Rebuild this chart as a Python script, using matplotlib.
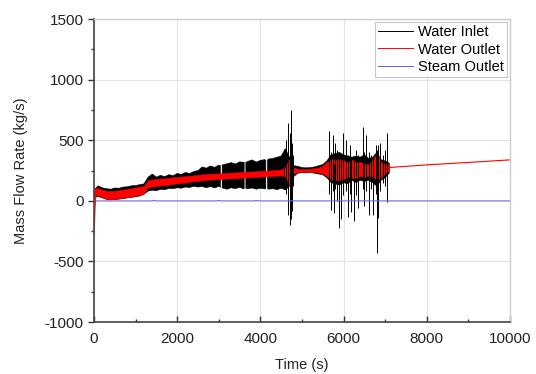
import numpy as np
import matplotlib
matplotlib.use('Agg')
from matplotlib import pyplot as plt
from matplotlib.lines import Line2D
from matplotlib.ticker import MultipleLocator

plt.rcParams['font.family'] = ['Liberation Sans', 'DejaVu Sans']
plt.rcParams['axes.unicode_minus'] = False

nan = np.nan

# time grid of the noisy record, s (extra points around the short data gaps)
t_env = (list(range(0, 3001, 100)) + [3040, 3060, 3080]
         + list(range(3100, 3601, 100)) + [3610, 3630, 3650]
         + list(range(3700, 4101, 100)) + [4130, 4150, 4170]
         + list(range(4200, 7101, 100)))

# Water Inlet band (low / high of the fast oscillation), kg/s
inlet_lo = [30, 35, 25, 12, 8, 10, 14, 18, 24, 28,
            34, 40, 55, 80, 88, 84, 95, 92, 102, 100,
            108, 104, 114, 110, 120, 114, 118, 108, 118, 106,
            120,
            112, nan, 108,
            105, 96, 108, 100, 112, 98,
            104, nan, 102,
            100, 106, 96, 104, 98,
            100, nan, 104,
            96, 100, 92, 104, 90, 120, 200, 228, 232, 230,
            235, 228, 222, 215, 190, 150, 140, 130, 150, 140,
            170, 150, 170, 160, 170, 150, 120, 170, 190, 230]
inlet_hi = [90, 125, 108, 100, 96, 106, 104, 114, 116, 124,
            126, 134, 140, 195, 222, 196, 210, 200, 216, 208,
            226, 218, 234, 226, 242, 250, 280, 270, 288, 276,
            295,
            290, nan, 296,
            298, 306, 316, 304, 322, 318,
            320, nan, 318,
            326, 338, 320, 334, 340,
            336, nan, 338,
            345, 350, 360, 370, 430, 360, 290, 285, 275, 272,
            275, 280, 290, 300, 330, 380, 390, 400, 380, 370,
            360, 370, 360, 380, 350, 360, 400, 340, 330, 310]

# Water Inlet single spikes, kg/s
spike_t = [4560, 4620, 4660, 4700, 4730, 4760, 4790,
           5650, 5690, 5740, 5760, 5800, 5850, 5880, 5940, 5980,
           6050, 6100, 6150, 6180, 6240, 6300, 6350, 6460, 6500,
           6530, 6600, 6650, 6700, 6770, 6795, 6820, 6870, 6950,
           7000, 7050]
spike_lo = [100, 60, -120, -200, -150, -80, 120,
            60, -74, 80, -100, 100, 0, -226, -150, 50,
            80, -130, 60, -90, -170, 50, -60, 100, -40,
            80, -116, 100, -120, 60, -432, -140, 80, 150,
            120, -8]
spike_hi = [430, 500, 640, 560, 750, 480, 380,
            573, 400, 545, 300, 477, 420, 380, 350, 559,
            504, 380, 463, 350, 330, 420, 380, 609, 400,
            545, 400, 380, 350, 463, 420, 460, 477, 380,
            420, 559]

# Water Outlet band, kg/s
outlet_lo = [50, 45, 30, 20, 15, 18, 22, 25, 30, 36,
             42, 50, 62, 115, 118, 122, 126, 130, 134, 140,
             144, 148, 152, 158, 162, 166, 170, 172, 176, 178,
             180,
             181, 181, 182,
             182, 185, 186, 188, 190, 192,
             192, 193, 193,
             194, 196, 198, 200, 202,
             203, 203, 204,
             204, 206, 208, 210, 200, 130, 225, 238, 240, 240,
             240, 238, 235, 225, 205, 175, 170, 170, 180, 200,
             190, 185, 205, 195, 210, 200, 175, 190, 230, 255]
outlet_hi = [100, 105, 90, 82, 80, 82, 88, 92, 98, 104,
             110, 116, 122, 172, 176, 180, 184, 186, 190, 194,
             196, 200, 204, 206, 210, 214, 218, 220, 222, 224,
             226,
             227, 227, 228,
             228, 230, 232, 234, 236, 238,
             238, 239, 239,
             240, 242, 244, 246, 248,
             249, 249, 250,
             250, 252, 254, 258, 280, 345, 275, 262, 262, 262,
             265, 268, 275, 290, 320, 345, 340, 345, 330, 320,
             340, 320, 320, 310, 300, 340, 395, 320, 305, 295]
# start-up dip and smooth tail of the outlet flow
t_out_start = [0, 20, 50]
outlet_start = [-280, -60, 90]
t_out_tail = [7100, 8000, 9000, 10000]
outlet_tail = [275, 297, 317, 338]

# Steam Outlet, kg/s
t_steam = [50, 500, 1400, 1450, 1500, 2950, 3000, 3050, 3850, 3900, 3950, 10000]
steam_out = [0, 0, 0, 5, 0, 0, 4, 0, 0, 4, 0, 0]

c_in, c_out, c_st = 'black', '#ff0000', '#6464ff'

fig = plt.figure(figsize=(5.36, 3.74), dpi=100)
ax = fig.add_axes([0.1754, 0.139, 0.7761, 0.810])

ax.fill_between(t_env, inlet_lo, inlet_hi, color=c_in, lw=0.4)
ax.vlines(spike_t, spike_lo, spike_hi, color=c_in, lw=0.7)
ax.fill_between(t_env, outlet_lo, outlet_hi, color=c_out, lw=0.4)
ax.plot(t_out_start, outlet_start, color=c_out, lw=1.0)
ax.plot(t_out_tail, outlet_tail, color=c_out, lw=0.8)
ax.plot(t_steam, steam_out, color=c_st, lw=0.7)

ax.set_xlim(0, 10000)
ax.set_ylim(-1000, 1500)
ax.xaxis.set_major_locator(MultipleLocator(2000))
ax.xaxis.set_minor_locator(MultipleLocator(1000))
ax.yaxis.set_major_locator(MultipleLocator(500))
ax.yaxis.set_minor_locator(MultipleLocator(250))
ax.grid(True, which='major', color='#e3e3e3', lw=0.8)
ax.set_axisbelow(True)

ax.tick_params(axis='x', which='both', direction='in', labelsize=11, colors='#333333', pad=7)
ax.tick_params(axis='y', which='both', direction='out', labelsize=11, colors='#333333')
ax.tick_params(which='major', length=4, width=1)
ax.tick_params(which='minor', length=2.5, width=1)
for lab in ax.get_xticklabels() + ax.get_yticklabels():
    lab.set_color('#222222')

for s in ['left', 'bottom']:
    ax.spines[s].set_color('#444444')
    ax.spines[s].set_linewidth(1.2)
for s in ['top', 'right']:
    ax.spines[s].set_color('#cccccc')
    ax.spines[s].set_linewidth(1.0)

ax.set_xlabel('Time (s)', fontsize=10.5, color='#222222', labelpad=9)
ax.set_ylabel('Mass Flow Rate (kg/s)', fontsize=10.5, color='#222222', labelpad=12)

handles = [Line2D([], [], color=c_in, lw=0.7),
           Line2D([], [], color=c_out, lw=0.7),
           Line2D([], [], color=c_st, lw=0.7)]
leg = ax.legend(handles, ['Water Inlet', 'Water Outlet', 'Steam Outlet'],
                loc='upper right', fontsize=10.5, frameon=True, fancybox=False,
                borderaxespad=0.2, borderpad=0.2, handlelength=2.4,
                handletextpad=0.35, labelspacing=0.25)
leg.get_frame().set_edgecolor('#bbbbbb')
leg.get_frame().set_linewidth(0.8)

fig.savefig('out.png', dpi=100)
